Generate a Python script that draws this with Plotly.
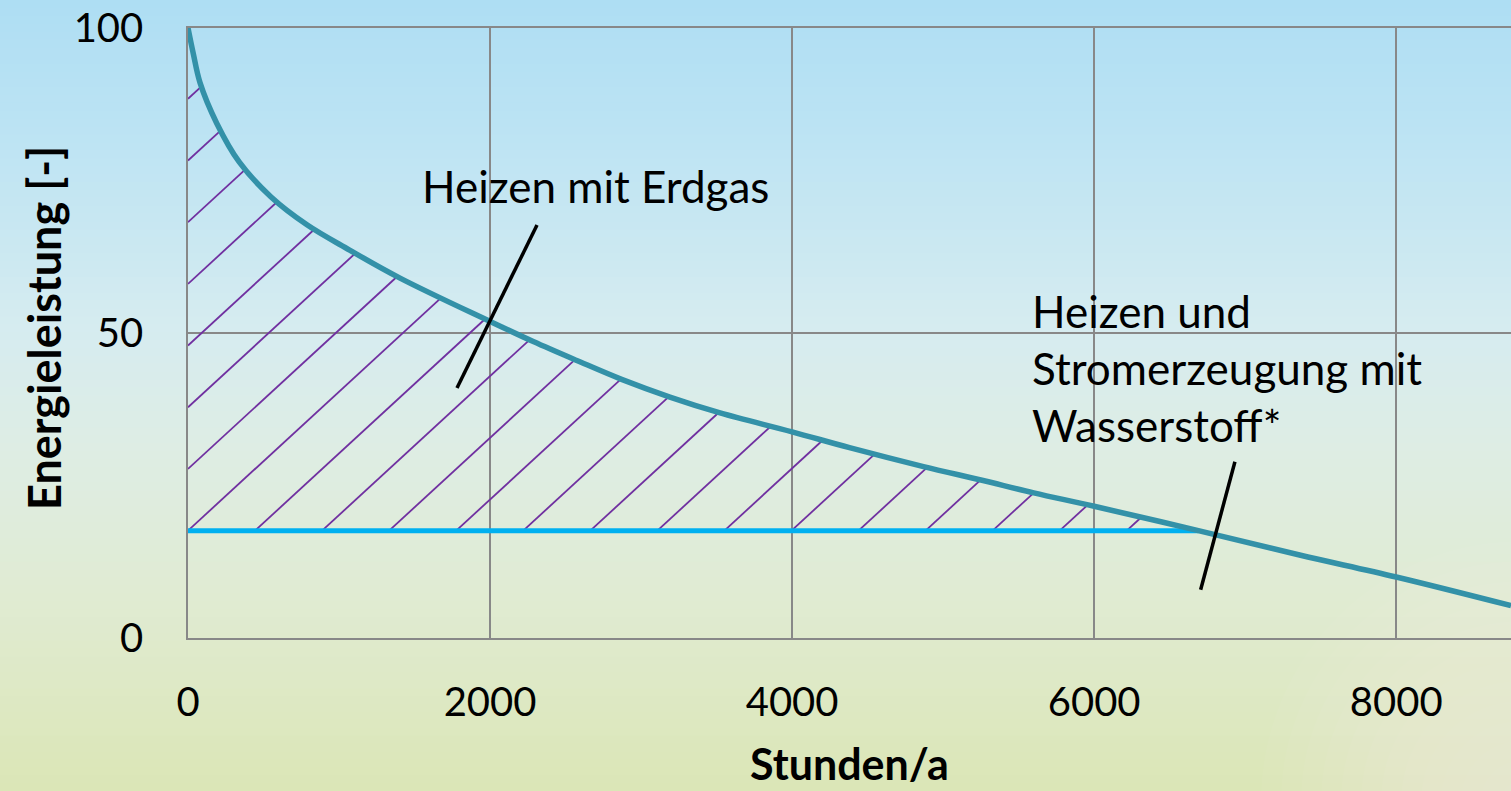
import numpy as np
import plotly.graph_objects as go

# ---------------- data ----------------
hours = [0, 35, 80, 190, 340, 550, 790, 1070, 1404, 2000, 2286, 2574, 2871,
         3191, 3523, 4000, 4380, 4870, 5250, 5600, 6000, 6690, 7360, 8000, 8760]
load = [100, 95.8, 91, 84.4, 78, 72.3, 67.7, 63.6, 59.0, 51.9, 48.6, 45.5, 42.4,
        39.5, 36.9, 33.8, 31.2, 28.1, 25.9, 23.8, 21.6, 17.6, 13.6, 10.0, 5.3]
base_level = 17.6        # constant hydrogen base load
base_end = 6690          # hours where base load meets the curve

x_ticks = [0, 2000, 4000, 6000, 8000]
y_ticks = [0, 50, 100]

label_gas = "Heizen mit Erdgas"
label_h2 = ["Heizen und", "Stromerzeugung mit", "Wasserstoff*"]
x_title = "Stunden/a"
y_title = "Energieleistung [-]"

# leader lines (data coords): start -> end
leader_gas = [(2311, 67.7), (1781, 41.0)]
leader_h2 = [(6932, 28.9), (6705, 7.9)]

# ---------------- layout geometry ----------------
W, H = 1511, 791
L, T = 188, 28
PW, PH = W - L, 610
B = H - T - PH
X_MAX = 8760

def px_x(p):
    return (p - L) / PW

def px_y(p):
    return (T + PH - p) / PH

FONT = "Lato"

# ---------------- hatch lines (derived from curve + base) ----------------
px_per_h = PW / X_MAX
px_per_u = PH / 100.0
k = 0.92 * px_per_h / px_per_u   # slope of hatch in data units
spacing = 444.0                  # hours between hatch lines along base

def curve_at(x):
    return float(np.interp(x, hours, load))

hx, hy = [], []
for i in range(-12, 20):
    x0 = i * spacing
    xs = max(x0, 0.0)
    ys = base_level + k * (xs - x0)
    if xs >= base_end or ys >= curve_at(xs):
        continue
    lo, hi = xs, X_MAX
    for _ in range(60):
        mid = 0.5 * (lo + hi)
        if curve_at(mid) - (base_level + k * (mid - x0)) > 0:
            lo = mid
        else:
            hi = mid
    xe = lo
    ye = base_level + k * (xe - x0)
    hx += [xs, xe, None]
    hy += [ys, ye, None]

fig = go.Figure()

fig.add_trace(go.Scatter(x=hx, y=hy, mode="lines",
                         line=dict(color="#7030A0", width=1.8),
                         hoverinfo="skip", showlegend=False))
fig.add_trace(go.Scatter(x=[0, base_end], y=[base_level, base_level], mode="lines",
                         line=dict(color="#00B0F0", width=5),
                         hoverinfo="skip", showlegend=False))
fig.add_trace(go.Scatter(x=hours, y=load, mode="lines",
                         line=dict(color="#3391A8", width=5.5, shape="spline", smoothing=1.0),
                         hoverinfo="skip", showlegend=False))

# ---------------- background gradient ----------------
stops = [(0, (174, 222, 243)), (150, (190, 228, 243)), (330, (214, 236, 240)),
         (450, (222, 237, 228)), (600, (224, 235, 210)), (791, (219, 230, 182))]

def col_at(p):
    for (p0, c0), (p1, c1) in zip(stops[:-1], stops[1:]):
        if p0 <= p <= p1:
            t = (p - p0) / (p1 - p0)
            return tuple(int(round(a + (b - a) * t)) for a, b in zip(c0, c1))
    return stops[-1][1]

shapes = []
nb = 100
for j in range(nb):
    p0 = j * H / nb
    p1 = (j + 1) * H / nb + 1
    c = col_at((p0 + p1) / 2)
    shapes.append(dict(type="rect", xref="paper", yref="paper", layer="below",
                       x0=px_x(-2), x1=px_x(W + 2), y0=px_y(p1), y1=px_y(p0),
                       line=dict(width=0), fillcolor="rgb(%d,%d,%d)" % c))
# soft light glow in the lower-right corner
for r in range(260, 0, -20):
    shapes.append(dict(type="circle", xref="paper", yref="paper", layer="below",
                       x0=px_x(W + 10 - r), x1=px_x(W + 10 + r),
                       y0=px_y(H + 10 + r), y1=px_y(H + 10 - r),
                       line=dict(width=0), fillcolor="rgba(255,255,255,0.035)"))

for (a, b) in (leader_gas, leader_h2):
    shapes.append(dict(type="line", xref="x", yref="y", x0=a[0], y0=a[1], x1=b[0], y1=b[1],
                       line=dict(color="black", width=3.5), layer="above"))

annotations = [
    dict(text=label_gas, xref="paper", yref="paper", x=px_x(595), y=px_y(186),
         xanchor="center", yanchor="middle", showarrow=False,
         font=dict(family=FONT, size=44, color="black")),
]
for line_txt, py in zip(label_h2, [311, 368, 424.5]):
    annotations.append(dict(text=line_txt, xref="paper", yref="paper", x=px_x(1030), y=px_y(py),
                            xanchor="left", yanchor="middle", showarrow=False,
                            font=dict(family=FONT, size=44, color="black")))
annotations.append(dict(text="<b>%s</b>" % x_title, xref="paper", yref="paper",
                        x=0.5, y=px_y(763), xanchor="center", yanchor="middle",
                        showarrow=False, font=dict(family=FONT, size=43, color="black")))
annotations.append(dict(text="<b>%s</b>" % y_title, xref="paper", yref="paper",
                        x=px_x(44), y=px_y(328), xanchor="center", yanchor="middle",
                        textangle=-90, showarrow=False,
                        font=dict(family=FONT, size=45, color="black")))

axis_common = dict(showgrid=True, gridcolor="#888888", gridwidth=1.5,
                   zeroline=False, ticks="", linecolor="#888888", linewidth=1.5,
                   tickfont=dict(family=FONT, size=40, color="black"))

fig.update_layout(
    width=W, height=H,
    margin=dict(l=L, r=0, t=T, b=B, pad=0),
    paper_bgcolor="rgb(200,230,230)",
    plot_bgcolor="rgba(0,0,0,0)",
    shapes=shapes,
    annotations=annotations,
    showlegend=False,
    xaxis=dict(range=[0, X_MAX], tickmode="array", tickvals=x_ticks,
               ticktext=[str(v) for v in x_ticks],
               showline=True, mirror=True, ticklabelstandoff=28, **axis_common),
    yaxis=dict(range=[0, 100], tickmode="array", tickvals=y_ticks,
               ticktext=[str(v) for v in y_ticks],
               showline=True, mirror=False, ticklabelstandoff=35, **axis_common),
)

fig.write_html("out.html", config={"displayModeBar": False},
               post_script="document.body.style.margin='0px';")
